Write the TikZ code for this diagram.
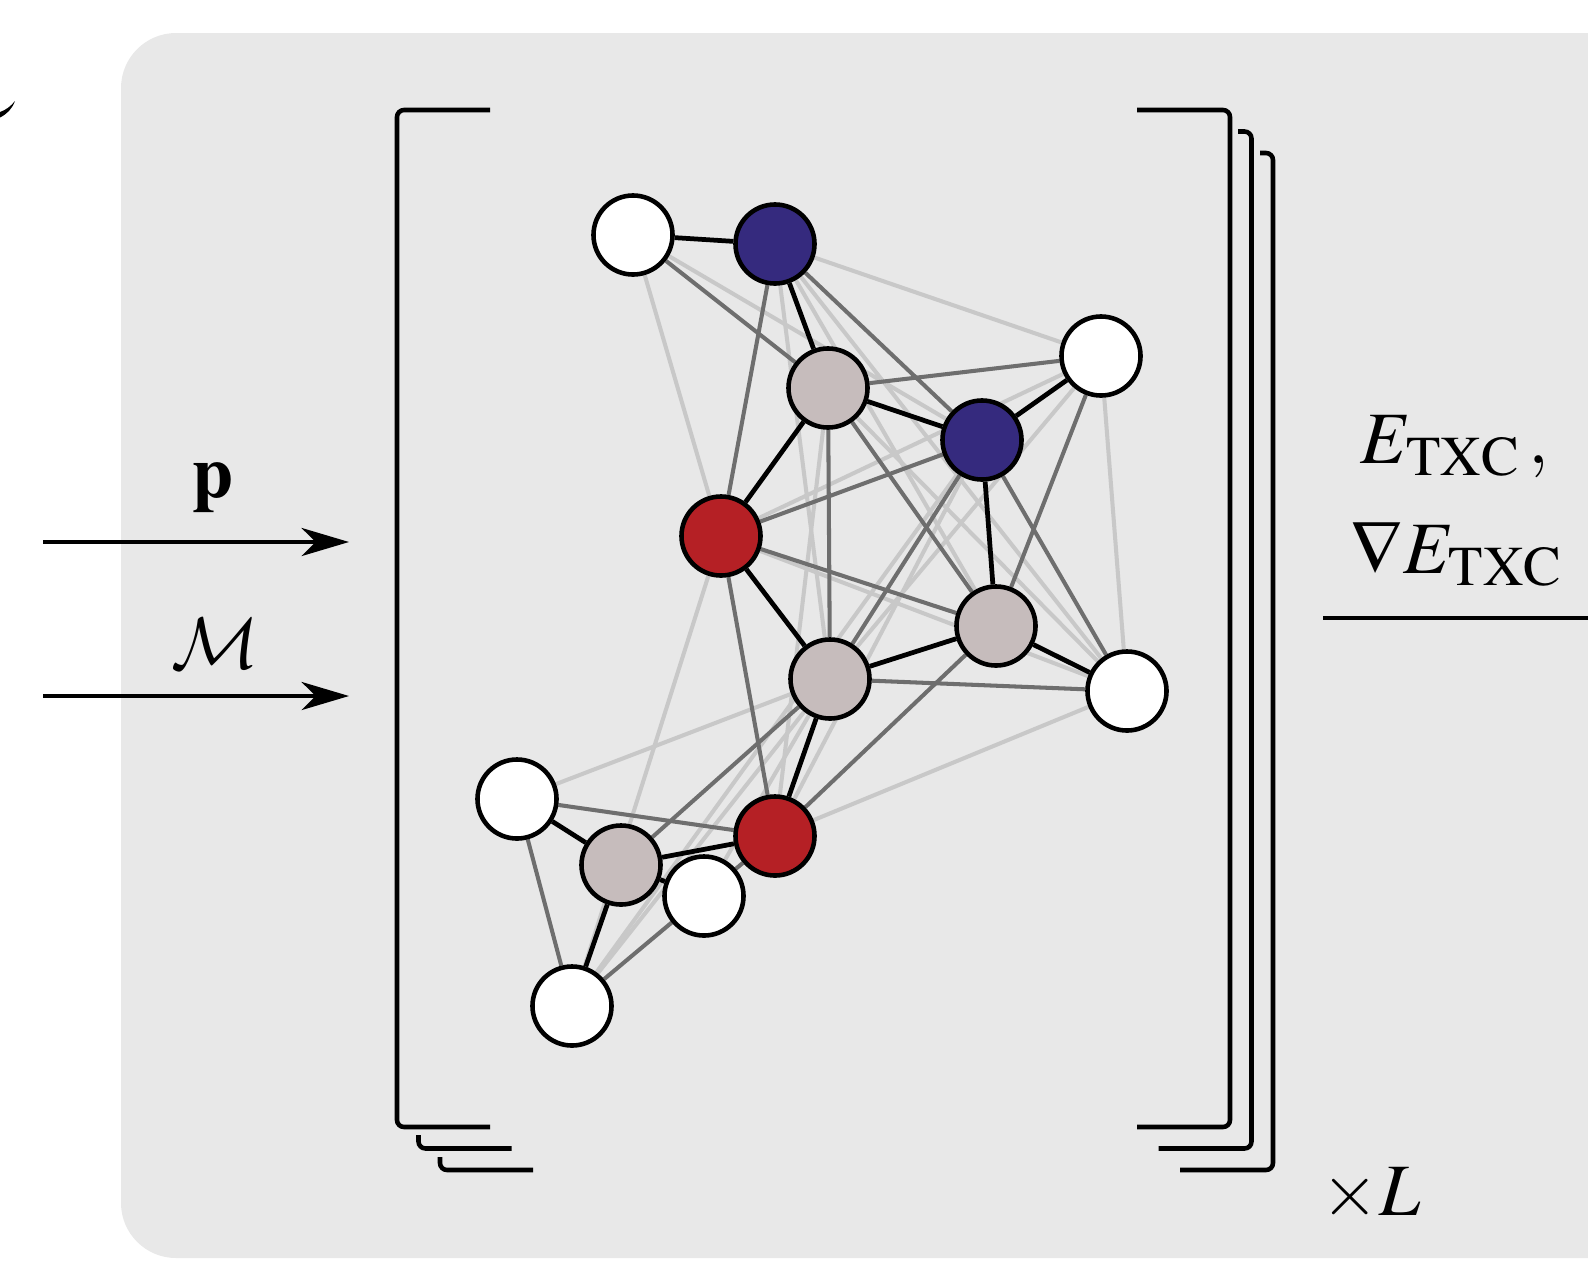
\documentclass[tikz,border=0pt]{standalone}
\usepackage{amsmath}
\usepackage{mathptmx}
\usepackage{tikz}
\usetikzlibrary{arrows.meta}
\DeclareMathSizes{21}{21}{16}{11}
\DeclareMathAlphabet{\mathcal}{OMS}{cmsy}{m}{n}
\definecolor{panelgray}{HTML}{E8E8E8}
\definecolor{atomblue}{HTML}{352A7E}
\definecolor{atomred}{HTML}{B52025}
\definecolor{atomgray}{HTML}{C6BCBC}
\definecolor{linkdark}{HTML}{6E6E6E}
\definecolor{linklight}{HTML}{C8C8C8}
\pgfdeclarelayer{front}
\pgfsetlayers{main,front}
\tikzset{
  atom/.style={circle, draw=black, line width=1.3pt, inner sep=0pt, minimum size=0.79cm},
  atomw/.style={atom, fill=white},
  atomb/.style={atom, fill=atomblue},
  atomr/.style={atom, fill=atomred},
  atomg/.style={atom, fill=atomgray},
}

\begin{document}
\begin{tikzpicture}[x=0.01cm, y=-0.01cm,
  every node/.style={font=\fontsize{21}{25}\selectfont},
  bond/.style={line width=1.35pt, draw=black},
  mid/.style={line width=1.15pt, draw=linkdark},
  faint/.style={line width=1.15pt, draw=linklight},
  brk/.style={line width=1.3pt, rounded corners=2pt},
  feed/.style={line width=1pt, -{Stealth[length=13.5pt, width=8pt, inset=4pt]}}]

\useasboundingbox (0,0) rectangle (1588,1260);
\clip (0,0) rectangle (1588,1260);

%% Panel
\fill[panelgray, rounded corners=0.55cm] (121,33) rectangle (1700,1258);
\fill (0,117.5) .. controls (7,114) and (12,109) .. (15,101)
  .. controls (11,106) and (6,110) .. (0,112) -- cycle;

%% Stacked brackets (L copies)
\foreach \d in {43,21.5,0} {
  \fill[panelgray] (389+\d,102+\d) rectangle (1238+\d,1135+\d);
  \draw[brk] (490+\d,110+\d) -- (397+\d,110+\d) -- (397+\d,1127+\d) -- (490+\d,1127+\d);
  \draw[brk] (1137+\d,110+\d) -- (1230+\d,110+\d) -- (1230+\d,1127+\d) -- (1137+\d,1127+\d);
}

%% Atoms
\begin{pgfonlayer}{front}
\node[atomw] (w1) at (633,235) {};
\node[atomb] (b1) at (775,244) {};
\node[atomg] (g1) at (828,388) {};
\node[atomw] (w2) at (1101,356) {};
\node[atomb] (b2) at (982,440) {};
\node[atomr] (r1) at (721,536) {};
\node[atomg] (g2) at (996,626) {};
\node[atomg] (g3) at (830,679) {};
\node[atomw] (w3) at (1127,691) {};
\node[atomw] (w4) at (517,799) {};
\node[atomr] (r2) at (775,836) {};
\node[atomg] (g4) at (621,865) {};
\node[atomw] (w5) at (704,896) {};
\node[atomw] (w6) at (572,1006) {};
\end{pgfonlayer}

%% Links
\foreach \a/\b in {w1/r1, w1/b2, b1/w2, b1/g3, b1/g2, b1/w3, g1/r2, g1/w3, r1/w2,
  r1/w3, r1/w6, g3/w4, w2/g3, b2/w6, b2/r2, w3/r2, w2/w3, g3/w5, g3/w6}
  \draw[faint] (\a) -- (\b);
\foreach \a/\b in {w1/g1, b1/r1, b1/b2, g1/w2, g1/g3, g1/g2, r1/b2, r1/g2, r1/r2,
  b2/g3, w2/g2, b2/w3, g3/w3, g2/r2, g3/g4, w4/r2, w4/w6, w6/r2}
  \draw[mid] (\a) -- (\b);
\foreach \a/\b in {w1/b1, b1/g1, g1/b2, g1/r1, b2/w2, b2/g2, r1/g3, g3/g2, g2/w3,
  g3/r2, r2/g4, g4/w4, g4/w6, g4/w5}
  \draw[bond] (\a) -- (\b);

%% Inputs
\coordinate (pin) at (43,542);
\coordinate (pout) at (349,542);
\coordinate (min) at (43,696);
\coordinate (mout) at (349,696);
\draw[feed] (pin) -- (pout);
\draw[feed] (min) -- (mout);
\node[anchor=base] (plbl) at (213,497) {$\mathbf{p}$};
\node[anchor=base] (mlbl) at (215,668) {$\mathcal{M}$};

%% Output
\node[anchor=base] (elbl) at (1455,463) {$E_{\mathrm{TXC}}\,,$};
\node[anchor=base] (glbl) at (1457,573) {$\nabla E_{\mathrm{TXC}}$};
\coordinate (ostart) at (1323,618);
\coordinate (oend) at (1600,618);
\draw[line width=1.15pt] (ostart) -- (oend);
\node[anchor=base] (nlbl) at (1371,1215) {$\times L$};

\end{tikzpicture}
\end{document}
